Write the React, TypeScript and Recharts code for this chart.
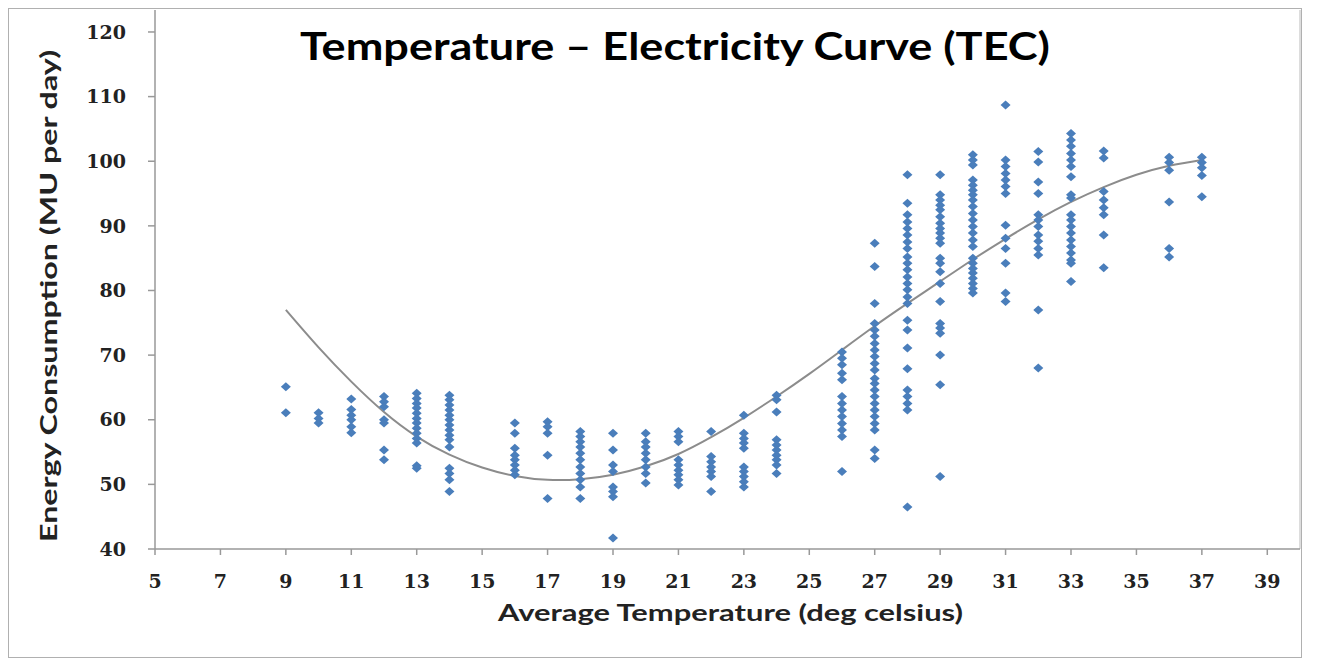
import React from "react";
import {
  ScatterChart,
  Scatter,
  XAxis,
  YAxis,
  ReferenceLine,
} from "recharts";

const chartTitle = "Temperature – Electricity Curve (TEC)";
const xTitle = "Average Temperature (deg celsius)";
const yTitle = "Energy Consumption (MU per day)";

const xTicks = [5, 7, 9, 11, 13, 15, 17, 19, 21, 23, 25, 27, 29, 31, 33, 35, 37, 39];
const yTicks = [40, 50, 60, 70, 80, 90, 100, 110, 120];

const temps = [9, 10, 11, 12, 13, 14, 16, 17, 18, 19, 20, 21, 22, 23, 24, 26, 27, 28, 29, 30, 31, 32, 33, 34, 36, 37];

const energyByTemp: number[][] = [
  [65.1, 61.1],
  [61.1, 60.2, 59.5],
  [63.2, 61.6, 60.7, 60.0, 58.9, 58.0],
  [63.6, 62.8, 62.0, 60.0, 59.5, 55.3, 53.8],
  [64.1, 63.3, 62.5, 61.8, 61.0, 60.2, 59.5, 58.7, 57.9, 57.1, 56.4, 52.9, 52.5],
  [63.8, 63.1, 62.3, 61.5, 60.7, 60.0, 59.2, 58.4, 57.6, 56.9, 55.8, 52.5, 51.7, 50.7, 48.9],
  [59.5, 57.9, 55.6, 54.5, 53.8, 53.0, 52.2, 51.5],
  [59.7, 58.9, 57.9, 54.5, 47.8],
  [58.2, 57.4, 56.6, 55.8, 54.8, 53.8, 52.7, 51.7, 50.7, 49.6, 47.8],
  [57.9, 55.3, 53.0, 52.0, 49.6, 48.9, 48.1, 41.7],
  [57.9, 56.6, 55.8, 54.8, 53.8, 52.7, 51.7, 50.2],
  [58.2, 57.4, 56.6, 53.8, 53.0, 52.2, 51.5, 50.7, 49.9],
  [58.2, 54.3, 53.5, 52.7, 52.0, 51.2, 48.9],
  [60.7, 57.9, 57.1, 56.4, 55.6, 52.7, 52.0, 51.2, 50.4, 49.6],
  [63.8, 63.1, 61.2, 56.9, 56.1, 55.3, 54.5, 53.8, 53.0, 51.7],
  [70.5, 69.5, 68.5, 67.2, 66.2, 63.6, 62.5, 61.5, 60.5, 59.4, 58.4, 57.4, 52.0],
  [87.3, 83.7, 78.0, 74.9, 73.9, 72.9, 71.8, 70.8, 69.8, 68.7, 67.7, 66.4, 65.6, 64.6, 63.6, 62.5, 61.5, 60.5, 59.4, 58.4, 55.3, 54.0],
  [97.9, 93.5, 91.7, 90.6, 89.6, 88.6, 87.5, 86.5, 85.2, 84.2, 83.2, 82.1, 81.1, 80.1, 79.0, 78.0, 75.4, 73.9, 71.1, 67.9, 64.6, 63.6, 62.5, 61.5, 46.5],
  [97.9, 94.8, 94.0, 93.2, 92.5, 91.4, 90.4, 89.6, 88.9, 88.1, 87.3, 85.0, 84.2, 82.9, 81.1, 78.3, 74.9, 74.2, 73.4, 70.0, 65.4, 51.2],
  [101.0, 100.2, 99.4, 97.1, 96.3, 95.5, 94.8, 94.0, 93.0, 91.9, 90.9, 89.9, 88.9, 87.8, 86.8, 85.0, 84.2, 83.4, 82.7, 81.9, 81.1, 80.3, 79.6],
  [108.7, 100.2, 99.2, 98.1, 97.1, 96.1, 95.0, 90.1, 88.1, 86.5, 84.2, 79.6, 78.3],
  [101.5, 99.9, 96.8, 95.0, 91.7, 90.9, 89.9, 88.6, 87.6, 86.5, 85.5, 77.0, 68.0],
  [104.3, 103.3, 102.3, 101.2, 100.2, 99.2, 97.6, 94.8, 94.3, 91.7, 90.9, 89.9, 88.9, 87.8, 86.8, 85.8, 84.7, 84.2, 81.4],
  [101.6, 100.5, 95.3, 94.0, 92.8, 91.7, 88.6, 83.5],
  [100.6, 99.8, 98.6, 93.7, 86.5, 85.2],
  [100.6, 99.8, 99.0, 97.8, 94.5],
];

const trendTemps = [9, 10, 11, 12, 13, 14, 15, 16, 17, 18, 19, 20, 21, 22, 23, 24, 25, 26, 27, 28, 29, 30, 31, 32, 33, 34, 35, 36, 37];
const trendValues = [77, 71.2, 65.9, 61.2, 57.4, 54.6, 52.6, 51.3, 50.7, 50.8, 51.5, 52.8, 54.7, 57.3, 60.3, 63.6, 67.1, 70.8, 74.5, 78, 81.4, 84.8, 88, 91, 93.7, 96, 97.9, 99.3, 100.2];

const points = temps.flatMap((t, i) => energyByTemp[i].map((v) => ({ t, v })));
const trend = trendTemps.map((t, i) => ({ t, v: trendValues[i] }));

const POINT_COLOR = "#4a7ebb";

const Diamond = (props: any) => {
  const { cx, cy } = props;
  if (cx == null || cy == null) return <g />;
  return (
    <path
      d={`M${cx},${cy - 4.5} L${cx + 5},${cy} L${cx},${cy + 4.5} L${cx - 5},${cy} Z`}
      fill={POINT_COLOR}
    />
  );
};

const NoDot = () => <g />;

const tickFont = {
  fontFamily: "DejaVu Serif",
  fontWeight: 700,
  fontSize: 19,
  fill: "#222",
};

const XTitle = (props: any) => {
  const vb = props.viewBox || {};
  const cx = vb.x + vb.width / 2 + 3;
  const y = vb.y + 63;
  return (
    <text
      x={cx}
      y={y}
      textAnchor="middle"
      dominantBaseline="central"
      fontFamily="Lato"
      fontWeight={700}
      fontSize={23}
      fill="#222"
      textLength={465}
      lengthAdjust="spacingAndGlyphs"
    >
      {xTitle}
    </text>
  );
};

const YTitle = () => {
  const x = 39;
  const y = 287;
  return (
    <text
      x={x}
      y={y}
      transform={`rotate(-90 ${x} ${y})`}
      textAnchor="middle"
      dominantBaseline="central"
      fontFamily="Lato"
      fontWeight={700}
      fontSize={22}
      fill="#222"
      textLength={492}
      lengthAdjust="spacingAndGlyphs"
    >
      {yTitle}
    </text>
  );
};

export default function App() {
  return (
    <div
      style={{
        position: "relative",
        width: 1294,
        height: 650,
        border: "1px solid #b0b0b0",
        boxSizing: "border-box",
        background: "#fff",
      }}
    >
      <ScatterChart
        width={1292}
        height={648}
        margin={{ top: 1, right: 1, bottom: 0, left: 0 }}
      >
        <XAxis
          type="number"
          dataKey="t"
          domain={[5, 40]}
          ticks={xTicks}
          interval={0}
          allowDataOverflow
          height={108}
          tickSize={6}
          tickMargin={20}
          tick={tickFont}
          axisLine={{ stroke: "#999", strokeWidth: 1.5 }}
          tickLine={{ stroke: "#999", strokeWidth: 1.5 }}
          label={<XTitle />}
        />
        <YAxis
          type="number"
          dataKey="v"
          domain={[40, 123.4]}
          ticks={yTicks}
          interval={0}
          allowDataOverflow
          width={146}
          tickSize={7}
          tickMargin={22}
          tick={tickFont}
          axisLine={{ stroke: "#999", strokeWidth: 1.5 }}
          tickLine={{ stroke: "#999", strokeWidth: 1.5 }}
          label={<YTitle />}
        />
        <ReferenceLine x={40} stroke="#bbb" strokeWidth={1} />
        <Scatter
          data={trend}
          shape={NoDot}
          line={{ stroke: "#8c8c8c", strokeWidth: 2 }}
          lineType="joint"
          lineJointType="natural"
          isAnimationActive={false}
        />
        <Scatter
          data={points}
          shape={Diamond}
          fill={POINT_COLOR}
          isAnimationActive={false}
        />
      </ScatterChart>
      <svg
        width={1292}
        height={70}
        style={{ position: "absolute", left: 0, top: 0, pointerEvents: "none" }}
      >
        <text
          x={666}
          y={36}
          textAnchor="middle"
          dominantBaseline="central"
          fontFamily="Lato"
          fontWeight={700}
          fontSize={38}
          fill="#000"
          textLength={750}
          lengthAdjust="spacingAndGlyphs"
        >
          {chartTitle}
        </text>
      </svg>
    </div>
  );
}
